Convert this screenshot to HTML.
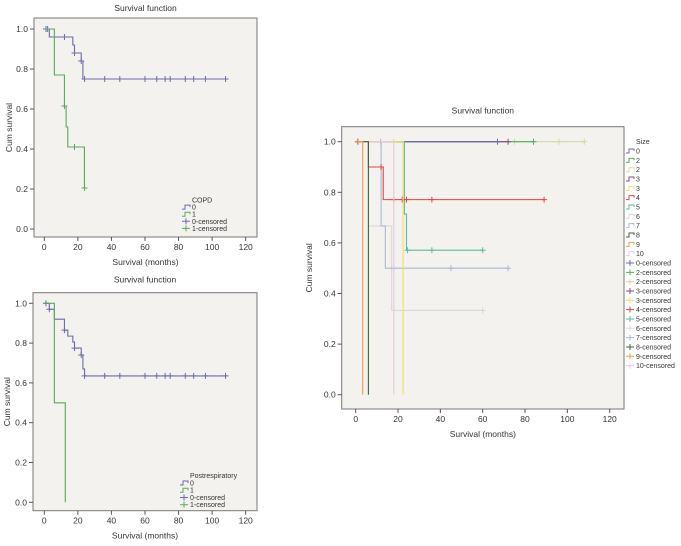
<!DOCTYPE html>
<html><head><meta charset="utf-8"><style>
html,body{margin:0;padding:0;background:#fff}
svg{display:block}
text{font-family:"Liberation Sans",sans-serif;fill:#333}
</style></head><body>
<svg id="svg" width="681" height="546" viewBox="0 0 681 546" xmlns="http://www.w3.org/2000/svg"></svg>
<script>
// ---------- data ----------
const xTicks = [0,20,40,60,80,100,120];
const yTicks = [0,0.2,0.4,0.6,0.8,1.0];
const yTickLabels = ["0.0","0.2","0.4","0.6","0.8","1.0"];

// Chart 1: COPD
const copdLabels = ["0","1"];
const copd0Times = [3,17,18,22,23];
const copd0Surv = [0.96,0.92,0.88,0.84,0.75];
const copd0Cens = [1,2,12,18,22,24,36,45,60,67,72,75,84,89,96,108];
const copd1Times = [6,12,13,14,23.9];
const copd1Surv = [0.77,0.615,0.51,0.41,0.205];
const copd1Cens = [12,18,24];

// Chart 2: Postrespiratory
const post0Times = [3,6,12,14,17,18,22,23,24];
const post0Surv = [0.97,0.92,0.865,0.835,0.805,0.775,0.74,0.67,0.635];
const post0Cens = [1,3,12,18,22,24,36,45,60,67,72,75,84,89,96,108];
const post1Times = [6,12.5];
const post1Surv = [0.5,0];
const post1Cens = [];

// Chart 3: Size
const sizeLabels = ["0","2","2","3","3","4","5","6","7","8","9","10"];
const sizeTimes = [[],[],[],[],[22.4],[6,13],[23,24],[6,17],[12,14],[6],[3.3],[18]];
const sizeSurv  = [[],[],[],[],[0],[0.9,0.771],[0.714,0.571],[0.667,0.333],[0.667,0.5],[0],[0],[0]];
const sizeCens  = [[67],[84],[75,96,108],[72],[18],[1,12,18,22,24,36,89],[24.5,36,60],[60],[11.8,18,45,72],[],[],[]];
const sizeColors = ["#6b6bab","#5aa85a","#d6d6a4","#8a4a8a","#efe060","#e04444","#5fb8a0","#dcd6d6","#a8b8d8","#406040","#f0a040","#e6c8e0"];

// ---------- helpers ----------
const NS="http://www.w3.org/2000/svg";
const svg=document.getElementById('svg');
function el(tag,attrs,parent){const e=document.createElementNS(NS,tag);for(const k in attrs)e.setAttribute(k,attrs[k]);(parent||svg).appendChild(e);return e;}
function txt(s,attrs,parent){const e=el('text',attrs,parent);e.textContent=s;return e;}

function makeChart(g){
  const sx=v=>g.x0+(v-0)*(g.x120-g.x0)/120;
  const sy=v=>g.y0+(v)*(g.y1-g.y0);
  g.sx=sx;g.sy=sy;
  const grp=el('g',{});
  
  
  const fr=el('rect',{x:g.fl,y:g.ft,width:g.fr-g.fl,height:g.fb-g.ft,fill:'#f4f2ee',stroke:'#777','stroke-width':1},grp);
  
  
  const t=txt('Survival function',{x:(g.fl+g.fr)/2,y:g.ft-g.titleOff,'text-anchor':'middle','font-size':8.5},grp);
  
  
  yTicks.forEach((v,i)=>{
    const y=sy(v);
    el('line',{x1:g.fl-4,x2:g.fl,y1:y,y2:y,stroke:'#555','stroke-width':1},grp);
    const l=txt(yTickLabels[i],{x:g.fl-6,y:y+3,'text-anchor':'end','font-size':8.5},grp);
    
    
  });
  xTicks.forEach(v=>{
    const x=sx(v);
    el('line',{x1:x,x2:x,y1:g.fb,y2:g.fb+4,stroke:'#555','stroke-width':1},grp);
    const l=txt(String(v),{x:x,y:g.fb+13,'text-anchor':'middle','font-size':8.5},grp);
    
    
  });
  const xt=txt('Survival (months)',{x:(g.fl+g.fr)/2,y:g.fb+28,'text-anchor':'middle','font-size':8.5},grp);
  
  
  const yc=(g.ft+g.fb)/2;
  const yt=txt('Cum survival',{x:g.ytx,y:yc,'text-anchor':'middle','font-size':8.5,transform:`rotate(-90 ${g.ytx} ${yc})`},grp);
  
  
  g.grp=grp;
  return g;
}
function survAt(times,surv,t){let s=1;for(let i=0;i<times.length;i++){if(t>=times[i])s=surv[i];}return s;}
function drawKM(g,times,surv,cens,color,name){
  const sx=g.sx,sy=g.sy;
  let d=`M${sx(0)},${sy(1)}`;let s=1;
  times.forEach((t,i)=>{d+=` H${sx(t)} V${sy(surv[i])}`;s=surv[i];});
  const lastT=Math.max(times.length?times[times.length-1]:0,cens.length?Math.max(...cens):0);
  d+=` H${sx(lastT)}`;
  const p=el('path',{d:d,fill:'none',stroke:color,'stroke-width':1.1},g.grp);
  
  
  cens.forEach(c=>{
    const x=sx(c),y=sy(survAt(times,surv,c));
    const m=el('path',{d:`M${x},${y-3}V${y+3}M${x-3},${y}H${x+3}`,stroke:color,'stroke-width':1},g.grp);
    
    
  });
}
function legend(g,x,y,step,title,items){
  const lg=el('g',{},g.grp);
  
  
  txt(title,{x:x+4,y:y+2.5,'font-size':7},lg);
  items.forEach((it,i)=>{
    const yy=y+step*(i+1);
    const e=el('g',{},lg);
    
    
    if(it.cens) el('path',{d:`M${x-6},${yy}H${x+2}M${x-2},${yy-3}V${yy+3}`,stroke:it.c,'stroke-width':1},e);
    else el('path',{d:`M${x-6},${yy+2}H${x-3}V${yy-2}H${x+2}V${yy}`,fill:'none',stroke:it.c,'stroke-width':1},e);
    txt(it.t,{x:x+4,y:yy+2.5,'font-size':7},e);
  });
}

// ---------- chart 1 ----------
const c1=makeChart({name:'copd-chart',fl:34,fr:257,ft:18,fb:237,x0:44.3,x120:245.7,y1:29,y0:229,titleOff:7,ytx:12});
drawKM(c1,copd0Times,copd0Surv,copd0Cens,'#6b6bab','copd-0');
drawKM(c1,copd1Times,copd1Surv,copd1Cens,'#5aa85a','copd-1');
legend(c1,188,200,7.1,'COPD',[{t:'0',c:'#6b6bab'},{t:'1',c:'#5aa85a'},{t:'0-censored',c:'#6b6bab',cens:1},{t:'1-censored',c:'#5aa85a',cens:1}]);

// ---------- chart 2 ----------
const c2=makeChart({name:'postrespiratory-chart',fl:33,fr:257,ft:292.7,fb:510.7,x0:44.3,x120:245.7,y1:303.3,y0:502.3,titleOff:10,ytx:10});
drawKM(c2,post0Times,post0Surv,post0Cens,'#6b6bab','post-0');
drawKM(c2,post1Times,post1Surv,post1Cens,'#5aa85a','post-1');
legend(c2,186,475.7,7.25,'Postrespiratory',[{t:'0',c:'#6b6bab'},{t:'1',c:'#5aa85a'},{t:'0-censored',c:'#6b6bab',cens:1},{t:'1-censored',c:'#5aa85a',cens:1}]);

// ---------- chart 3 ----------
const c3=makeChart({name:'size-chart',fl:341.7,fr:624,ft:126.7,fb:409,x0:355.7,x120:609.7,y1:141.7,y0:394.7,titleOff:13,ytx:312});
const order=[2,1,3,0,6,7,8,5,4,11,9,10];
order.forEach(i=>drawKM(c3,sizeTimes[i],sizeSurv[i],sizeCens[i],sizeColors[i],'size-'+sizeLabels[i]+'-'+i));
const items3=sizeLabels.map((t,i)=>({t:t,c:sizeColors[i]})).concat(sizeLabels.map((t,i)=>({t:t+'-censored',c:sizeColors[i],cens:1})));
legend(c3,632,141.7,9.33,'Size',items3);
</script>
</body></html>
